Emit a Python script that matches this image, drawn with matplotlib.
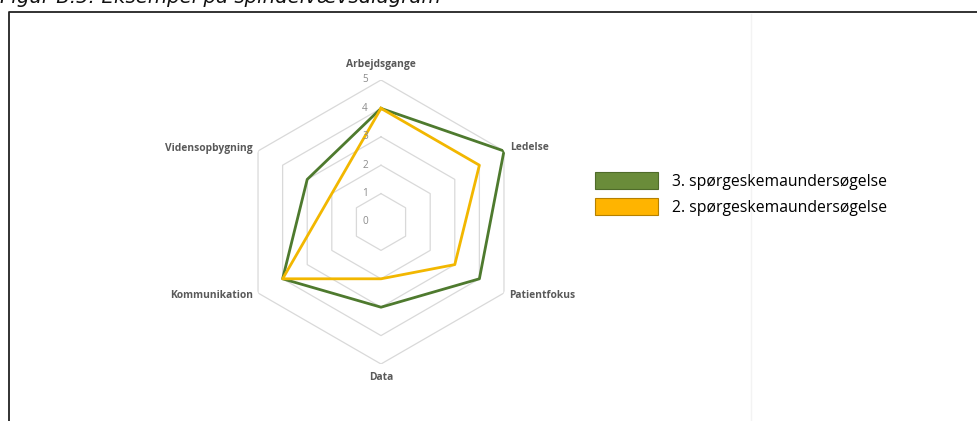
import numpy as np
import matplotlib
matplotlib.use("Agg")
import matplotlib.pyplot as plt
from matplotlib.patches import Patch
from matplotlib.lines import Line2D
from matplotlib.transforms import offset_copy

categories = ["Arbejdsgange", "Ledelse", "Patientfokus", "Data", "Kommunikation", "Vidensopbygning"]
survey3 = [4, 5, 4, 3, 4, 3]
survey2 = [4, 4, 3, 2, 4, 2]
series_labels = ["3. spørgeskemaundersøgelse", "2. spørgeskemaundersøgelse"]
ring_levels = [1, 2, 3, 4, 5]
tick_labels = ["0", "1", "2", "3", "4", "5"]

W, H = 977, 421
fig = plt.figure(figsize=(W / 100, H / 100), dpi=100)
fig.patch.set_facecolor("white")

def fx(px):
    return px / W

def fy(py):
    return 1 - py / H

# frame lines
fig.add_artist(Line2D([fx(9), fx(9), fx(990)], [fy(430), fy(12), fy(12)],
                      transform=fig.transFigure, color="#222222", lw=1.3))
fig.add_artist(Line2D([fx(751), fx(751)], [fy(14), fy(430)],
                      transform=fig.transFigure, color="#F3F3F3", lw=1.0))

# cut-off title
fig.text(fx(0), fy(3), "Figur B.5: Eksempel på spindelvævsdiagram", fontsize=14.2,
         style="italic", family="DejaVu Sans", va="baseline", ha="left", color="#111111")

cx, cy, R = 381, 222, 142
ax = fig.add_axes([fx(cx - R), fy(cy + R), 2 * R / W, 2 * R / H], projection="polar")
ax.set_theta_offset(np.pi / 2)
ax.set_theta_direction(-1)
ax.set_ylim(0, 5)
ax.grid(False)
ax.set_xticks([])
ax.set_yticks([])
ax.spines["polar"].set_visible(False)
ax.patch.set_alpha(0)

n = len(categories)
theta = np.linspace(0, 2 * np.pi, n, endpoint=False)
theta_c = np.concatenate([theta, theta[:1]])

for lv in ring_levels:
    ax.plot(theta_c, [lv] * (n + 1), color="#D9D9D9", lw=0.9, zorder=1)

ax.plot(theta_c, survey2 + survey2[:1], color="#F2B700", lw=2.0, zorder=3)
ax.plot(theta_c, survey3 + survey3[:1], color="#4E7A2E", lw=2.0, zorder=2)

for i, t in enumerate(tick_labels):
    tr = offset_copy(ax.transData, fig=fig, x=-16, y=0, units="dots")
    ax.text(0, i, t, transform=tr, ha="center", va="center", fontsize=7.2,
            color="#8C8C8C", family="Open Sans")

offsets = [(0, 15, "center"), (6, 3, "left"), (5, -2, "left"),
           (0, -13, "center"), (-5, -2, "right"), (-5, 3, "right")]
for t, name, (dx, dy, ha) in zip(theta, categories, offsets):
    tr = offset_copy(ax.transData, fig=fig, x=dx, y=dy, units="dots")
    ax.text(t, 5, name, transform=tr, ha=ha, va="center", fontsize=7.4,
            fontweight="bold", color="#595959", family="Open Sans")

handles = [Patch(facecolor="#6A8C3A", edgecolor="#4F6B2A", lw=0.8),
           Patch(facecolor="#FFB400", edgecolor="#B58000", lw=0.8)]
fs = 11.3
fpx = fs * 100 / 72
fig.legend(handles, series_labels, loc="upper left", bbox_to_anchor=(fx(595), fy(172)),
           frameon=False, prop={"family": "Open Sans", "size": fs},
           handlelength=63 / fpx, handleheight=21 / fpx,
           handletextpad=14 / fpx, labelspacing=8 / fpx, borderpad=0, borderaxespad=0)

fig.savefig("out.png", dpi=100)
